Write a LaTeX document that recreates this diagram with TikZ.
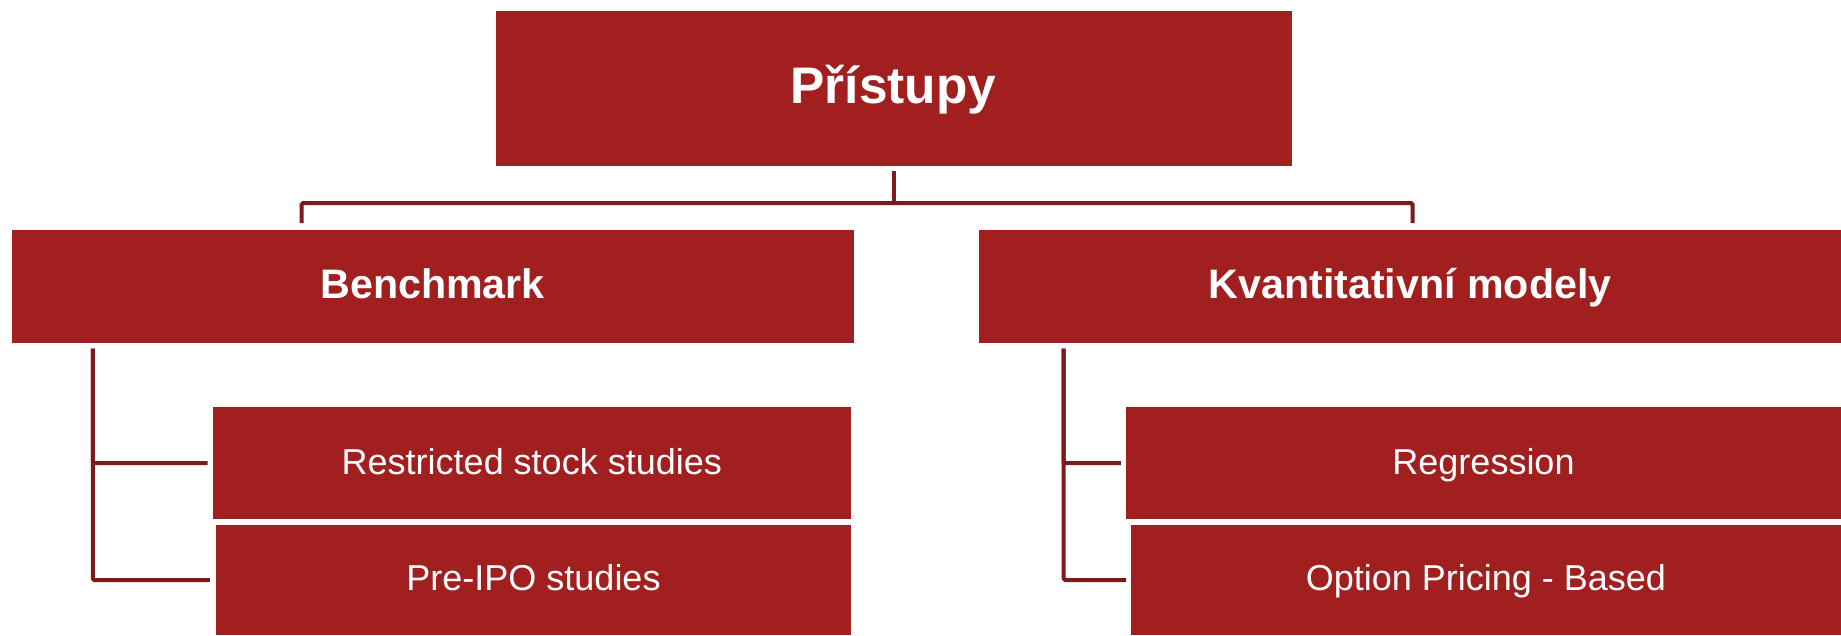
\documentclass[tikz,border=0pt]{standalone}
\usepackage{fontspec}
\setmainfont{Liberation Sans}
\definecolor{boxred}{HTML}{A21F20}
\definecolor{linered}{HTML}{7E1A1C}
\begin{document}
\begin{tikzpicture}[x=1pt,y=-1pt,
  box/.style={fill=boxred,text=white,inner sep=0pt,align=center},
  bigtxt/.style={font=\fontsize{51.4}{60}\selectfont\bfseries,text height=38.5pt,text depth=7.7pt},
  midtxt/.style={font=\fontsize{41.2}{48}\selectfont\bfseries,text height=30.9pt,text depth=6.2pt},
  smalltxt/.style={font=\fontsize{36}{43}\selectfont,text height=27pt,text depth=5.4pt},
  conn/.style={draw=linered,line width=4pt,rounded corners=1.5pt}]
\useasboundingbox[fill=white] (0,0) rectangle (1841,635);
\node[box,bigtxt,minimum width=796pt,minimum height=155pt] (top) at (893.5,88) {Přístupy};
\node[box,midtxt,minimum width=842pt,minimum height=113pt] (bench) at (432.6,286.5) {Benchmark};
\node[box,midtxt,minimum width=862pt,minimum height=113pt] (kvant) at (1410,286.5) {Kvantitativní modely};
\node[box,smalltxt,minimum width=638.5pt,minimum height=111.6pt] (rs) at (531.8,463.2) {Restricted stock studies};
\node[box,smalltxt,minimum width=635pt,minimum height=110pt] (pre) at (533.5,580) {Pre-IPO studies};
\node[box,smalltxt,minimum width=715pt,minimum height=111.6pt] (reg) at (1483.5,463.2) {Regression};
\node[box,smalltxt,minimum width=710pt,minimum height=110pt] (opt) at (1485.9,580) {Option Pricing - Based};
% top connectors
\coordinate (tj) at (893.5,203);
\coordinate (bj) at (301.7,223);
\coordinate (kj) at (1412.5,223);
\draw[conn] ([yshift=-5.5pt]top.south) -- (tj);
\draw[conn] (bj) |- (tj) -| (kj);
% left tree
\coordinate (bv) at (92.8,348.7);
\draw[conn] (bv) |- ([xshift=-4.7pt]rs.west);
\draw[conn] (bv) |- ([xshift=-6pt]pre.west);
% right tree
\coordinate (kv) at (1063.7,348.7);
\draw[conn] (kv) |- ([xshift=-5pt]reg.west);
\draw[conn] (kv) |- ([xshift=-4.7pt]opt.west);
\end{tikzpicture}
\end{document}
